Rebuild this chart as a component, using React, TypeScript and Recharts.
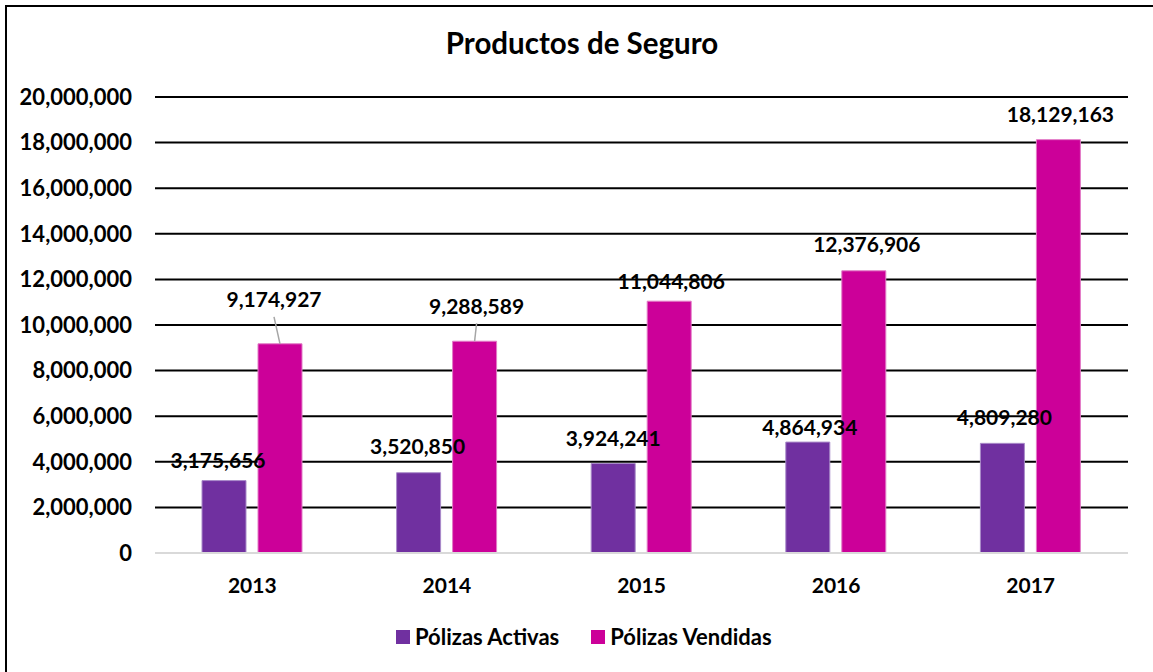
import React from "react";
import { BarChart, Bar, XAxis, YAxis, CartesianGrid, LabelList } from "recharts";

const years = ["2013", "2014", "2015", "2016", "2017"];
const activas = [3175656, 3520850, 3924241, 4864934, 4809280];
const vendidas = [9174927, 9288589, 11044806, 12376906, 18129163];
const yTicks = [0, 2000000, 4000000, 6000000, 8000000, 10000000, 12000000, 14000000, 16000000, 18000000, 20000000];

const series = [
  { key: "activas", name: "Pólizas Activas", color: "#7030a0" },
  { key: "vendidas", name: "Pólizas Vendidas", color: "#cc0099" },
];

// label nudges (Excel moved a few of them by hand)
const activasDx = [-6, -1, 0, 2, 2];
const activasUp = [20, 26, 25, 15, 26];
const vendidasDx = [-6, 2, 2, 3, 2];
const vendidasUp = [44, 35, 20, 26, 25];
const vendidasLeader = [true, true, false, false, false];
const noLeader = [false, false, false, false, false];

const data = years.map((y, i) => ({ year: y, activas: activas[i], vendidas: vendidas[i] }));

const FONT = "Lato, 'Open Sans', sans-serif";
const fmt = (v: number) => Number(v).toLocaleString("en-US");

const makeLabel = (dxs: number[], ups: number[], leaders: boolean[]) => (props: any) => {
  const { x, y, width, value, index } = props;
  const cx = Number(x) + Number(width) / 2;
  const top = Number(y);
  const lx = cx + dxs[index];
  const ly = top - ups[index];
  return (
    <g>
      {leaders[index] && (
        <line x1={lx} y1={ly + 17} x2={cx} y2={top} stroke="#a6a6a6" strokeWidth={1.5} />
      )}
      <text x={lx} y={ly} dy={7.5} textAnchor="middle" fill="#000" fontSize={21} fontWeight={700} fontFamily={FONT}>
        {fmt(value)}
      </text>
    </g>
  );
};

export default function App() {
  return (
    <div style={{ position: "absolute", left: 0, top: 0, width: 1153, height: 672, background: "#fff", fontFamily: FONT }}>
      <div
        style={{
          position: "absolute",
          left: 5,
          top: 5,
          width: 1148,
          height: 667,
          borderLeft: "2px solid #000",
          borderTop: "2px solid #000",
          boxSizing: "border-box",
        }}
      />
      <div
        style={{
          position: "absolute",
          top: 28,
          left: 0,
          width: 1164,
          textAlign: "center",
          fontSize: 29.5,
          lineHeight: "29.5px",
          fontWeight: 700,
          color: "#000",
        }}
      >
        Productos de Seguro
      </div>
      <div style={{ position: "absolute", left: 0, top: 0 }}>
        <BarChart
          width={1153}
          height={672}
          data={data}
          margin={{ top: 97, right: 25, left: 0, bottom: 59 }}
          barSize={44}
          barGap={12}
        >
          <CartesianGrid vertical={false} stroke="#000" strokeWidth={2} />
          <XAxis
            dataKey="year"
            height={60}
            tickLine={false}
            tickSize={0}
            tickMargin={25}
            axisLine={{ stroke: "#d9d9d9", strokeWidth: 2 }}
            tick={{ fill: "#000", fontSize: 21, fontWeight: 700, fontFamily: FONT }}
          />
          <YAxis
            width={155}
            domain={[0, 20000000]}
            ticks={yTicks}
            interval={0}
            tickLine={false}
            tickSize={0}
            tickMargin={23}
            axisLine={false}
            tickFormatter={(v) => fmt(v)}
            tick={{ fill: "#000", fontSize: 22, fontWeight: 700, fontFamily: FONT }}
          />
          <Bar dataKey="activas" name={series[0].name} fill={series[0].color} stroke="#a98bc9" strokeWidth={1} isAnimationActive={false}>
            <LabelList dataKey="activas" content={makeLabel(activasDx, activasUp, noLeader)} />
          </Bar>
          <Bar dataKey="vendidas" name={series[1].name} fill={series[1].color} stroke="#e27cc6" strokeWidth={1} isAnimationActive={false}>
            <LabelList dataKey="vendidas" content={makeLabel(vendidasDx, vendidasUp, vendidasLeader)} />
          </Bar>
        </BarChart>
      </div>
      <div
        style={{
          position: "absolute",
          top: 624,
          left: 396,
          display: "flex",
          alignItems: "center",
          gap: 32,
          fontSize: 22,
          lineHeight: "26px",
          fontWeight: 700,
          color: "#000",
        }}
      >
        {series.map((s) => (
          <div key={s.key} style={{ display: "flex", alignItems: "center" }}>
            <span style={{ display: "inline-block", width: 14, height: 14, background: s.color, marginRight: 5 }} />
            <span>{s.name}</span>
          </div>
        ))}
      </div>
    </div>
  );
}
